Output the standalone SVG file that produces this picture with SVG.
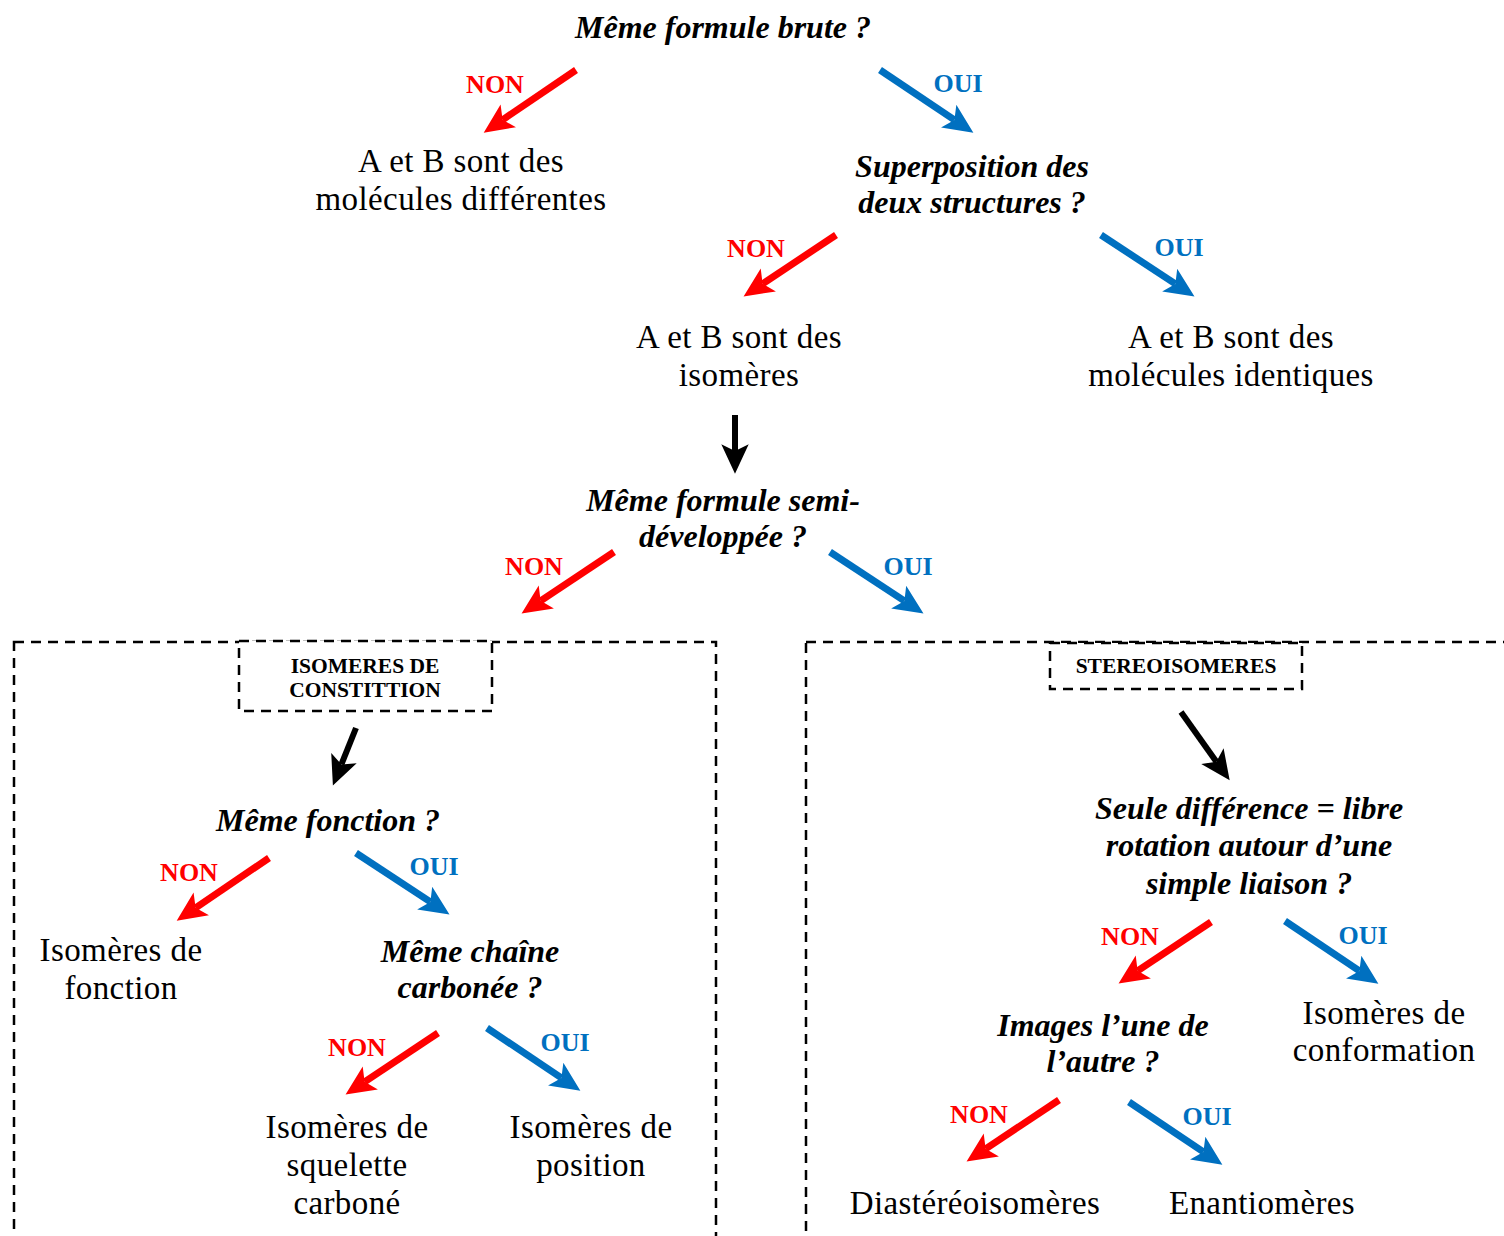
<svg xmlns="http://www.w3.org/2000/svg" width="1504" height="1236" viewBox="0 0 1504 1236">
<style>
.q{font-family:"Liberation Serif","Times New Roman",serif;font-weight:bold;font-style:italic;font-size:32px;fill:#000;text-anchor:middle}
.t{font-family:"Liberation Serif","Times New Roman",serif;font-size:33px;letter-spacing:0.4px;fill:#000;text-anchor:middle}
.non{font-family:"Liberation Serif","Times New Roman",serif;font-weight:bold;font-size:26px;fill:#FF0000;text-anchor:middle}
.oui{font-family:"Liberation Serif","Times New Roman",serif;font-weight:bold;font-size:26px;fill:#0070C0;text-anchor:middle}
.bl{font-family:"Liberation Serif","Times New Roman",serif;font-weight:bold;font-size:21.5px;fill:#000;text-anchor:middle}
.dash{fill:none;stroke:#000;stroke-width:2.5;stroke-dasharray:10 7}
.r{stroke:#FF0000;stroke-width:7;fill:none}
.b{stroke:#0070C0;stroke-width:7;fill:none}
.k{stroke:#000;stroke-width:6;fill:none}
</style>
<defs>
<marker id="mr" markerUnits="userSpaceOnUse" markerWidth="40" markerHeight="40" viewBox="-10 -15 35 30" refX="0" refY="0" orient="auto"><path d="M-6,-12 L20,0 L-6,12 L0,0 Z" fill="#FF0000"/></marker>
<marker id="mb" markerUnits="userSpaceOnUse" markerWidth="40" markerHeight="40" viewBox="-10 -15 35 30" refX="0" refY="0" orient="auto"><path d="M-6,-12 L20,0 L-6,12 L0,0 Z" fill="#0070C0"/></marker>
<marker id="mk" markerUnits="userSpaceOnUse" markerWidth="40" markerHeight="40" viewBox="-10 -15 35 30" refX="0" refY="0" orient="auto"><path d="M-6,-12 L20,0 L-6,12 L0,0 Z" fill="#000"/></marker>
</defs>

<g id="frames">
<rect id="frame-constitution" class="dash" x="14" y="642" width="702" height="620"/>
<rect id="frame-stereo" class="dash" x="806" y="642" width="720" height="620"/>
</g>

<g id="connectors">
<line class="r" x1="576" y1="70" x2="502.6" y2="119.8" marker-end="url(#mr)"/>
<line class="b" x1="880" y1="70" x2="954.4" y2="119.9" marker-end="url(#mb)"/>
<line class="r" x1="836" y1="235" x2="762.6" y2="283.8" marker-end="url(#mr)"/>
<line class="b" x1="1101" y1="235" x2="1175.4" y2="283.9" marker-end="url(#mb)"/>
<line class="k" x1="735" y1="415" x2="735" y2="451" marker-end="url(#mk)"/>
<line class="r" x1="614" y1="552" x2="540.6" y2="600.8" marker-end="url(#mr)"/>
<line class="b" x1="830" y1="552" x2="904.4" y2="600.9" marker-end="url(#mb)"/>
<line class="k" x1="356" y1="728" x2="341.4" y2="764.4" marker-end="url(#mk)"/>
<line class="k" x1="1181" y1="712" x2="1216.4" y2="761.7" marker-end="url(#mk)"/>
<line class="r" x1="269" y1="858" x2="195.6" y2="907.8" marker-end="url(#mr)"/>
<line class="b" x1="356" y1="853" x2="430.4" y2="901.9" marker-end="url(#mb)"/>
<line class="r" x1="438" y1="1033" x2="364.6" y2="1081.8" marker-end="url(#mr)"/>
<line class="b" x1="487" y1="1028" x2="561.4" y2="1077.9" marker-end="url(#mb)"/>
<line class="r" x1="1211" y1="922" x2="1137.6" y2="970.8" marker-end="url(#mr)"/>
<line class="b" x1="1285" y1="921" x2="1359.4" y2="970.9" marker-end="url(#mb)"/>
<line class="r" x1="1059" y1="1100" x2="985.6" y2="1148.8" marker-end="url(#mr)"/>
<line class="b" x1="1129" y1="1102" x2="1203.4" y2="1151.9" marker-end="url(#mb)"/>
<text class="non" x="495" y="93">NON</text>
<text class="oui" x="958" y="92">OUI</text>
<text class="non" x="756" y="257">NON</text>
<text class="oui" x="1179" y="256">OUI</text>
<text class="non" x="534" y="575">NON</text>
<text class="oui" x="908" y="575">OUI</text>
<text class="non" x="189" y="881">NON</text>
<text class="oui" x="434" y="875">OUI</text>
<text class="non" x="357" y="1056">NON</text>
<text class="oui" x="565" y="1051">OUI</text>
<text class="non" x="1130" y="945">NON</text>
<text class="oui" x="1363" y="944">OUI</text>
<text class="non" x="979" y="1123">NON</text>
<text class="oui" x="1207" y="1125">OUI</text>
</g>

<g id="q-formule-brute"><text class="q" x="723" y="38">Même formule brute ?</text></g>
<g id="molecules-differentes"><text class="t" x="461" y="172">A et B sont des</text><text class="t" x="461" y="210">molécules différentes</text></g>
<g id="q-superposition"><text class="q" x="972" y="177">Superposition des</text><text class="q" x="972" y="213">deux structures ?</text></g>
<g id="isomeres"><text class="t" x="739" y="348">A et B sont des</text><text class="t" x="739" y="386">isomères</text></g>
<g id="identiques"><text class="t" x="1231" y="348">A et B sont des</text><text class="t" x="1231" y="386">molécules identiques</text></g>
<g id="q-semi-developpee"><text class="q" x="723" y="511">Même formule semi-</text><text class="q" x="723" y="547">développée ?</text></g>

<g id="isomeres-constitution">
<rect class="dash" x="239" y="641" width="253" height="70" style="fill:#fff"/>
<text class="bl" x="365" y="673">ISOMERES DE</text>
<text class="bl" x="365" y="697">CONSTITTION</text>
</g>
<g id="stereoisomeres">
<rect class="dash" x="1050" y="643" width="252" height="46" style="fill:#fff"/>
<text class="bl" x="1176" y="673">STEREOISOMERES</text>
</g>

<g id="q-fonction"><text class="q" x="328" y="831">Même fonction ?</text></g>
<g id="isomeres-fonction"><text class="t" x="121" y="961">Isomères de</text><text class="t" x="121" y="999">fonction</text></g>
<g id="q-chaine"><text class="q" x="470" y="962">Même chaîne</text><text class="q" x="470" y="998">carbonée ?</text></g>
<g id="isomeres-squelette"><text class="t" x="347" y="1138">Isomères de</text><text class="t" x="347" y="1176">squelette</text><text class="t" x="347" y="1214">carboné</text></g>
<g id="isomeres-position"><text class="t" x="591" y="1138">Isomères de</text><text class="t" x="591" y="1176">position</text></g>

<g id="q-rotation"><text class="q" x="1249" y="819">Seule différence = libre</text><text class="q" x="1249" y="856">rotation autour d’une</text><text class="q" x="1249" y="894">simple liaison ?</text></g>
<g id="q-images"><text class="q" x="1103" y="1036">Images l’une de</text><text class="q" x="1103" y="1072">l’autre ?</text></g>
<g id="isomeres-conformation"><text class="t" x="1384" y="1024">Isomères de</text><text class="t" x="1384" y="1061">conformation</text></g>
<g id="diastereoisomeres"><text class="t" x="975" y="1214">Diastéréoisomères</text></g>
<g id="enantiomeres"><text class="t" x="1262" y="1214">Enantiomères</text></g>
</svg>
